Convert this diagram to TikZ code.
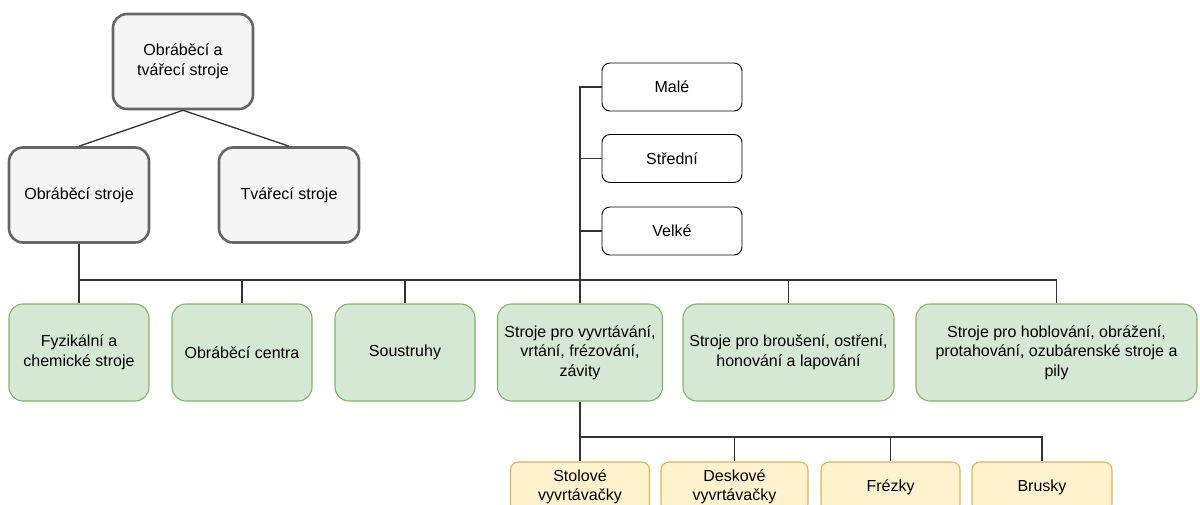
\documentclass[tikz,border=0pt]{standalone}
\usepackage{fontspec}
\setmainfont{Liberation Sans}
\usepackage{xcolor}
\usepackage{tikz}
\usetikzlibrary{calc}
\definecolor{grayfill}{HTML}{F5F5F5}
\definecolor{graydraw}{HTML}{666666}
\definecolor{greenfill}{HTML}{D5E8D4}
\definecolor{greendraw}{HTML}{82B366}
\definecolor{yellowfill}{HTML}{FFF2CC}
\definecolor{yellowdraw}{HTML}{D6B656}
\definecolor{linecol}{HTML}{333333}
\tikzset{
    box/.style={draw, rounded corners=14pt, align=center, inner sep=2pt,
      font=\fontsize{16}{19.5}\selectfont},
    graybox/.style={box, fill=grayfill, draw=graydraw, line width=2.6pt, minimum width=140pt, minimum height=95pt},
    greenbox/.style={box, fill=greenfill, draw=greendraw, line width=1.1pt, minimum height=97pt},
    whitebox/.style={box, fill=white, draw=black, line width=0.9pt, rounded corners=8pt, minimum width=140pt, minimum height=48pt},
    yellowbox/.style={box, fill=yellowfill, draw=yellowdraw, line width=1.1pt, rounded corners=8pt, minimum height=50pt},
    conn/.style={draw=linecol, line width=1.3pt}}

\begin{document}
\begin{tikzpicture}[x=1pt,y=-1pt]
\useasboundingbox (0,0) rectangle (1200,504);
\clip (0,0) rectangle (1200,504);

%Top level
\node[graybox] (obrtvar) at (183,61.5) {Obráběcí a\\tvářecí stroje};
\node[graybox] (obr) at (79,195) {Obráběcí stroje};
\node[graybox] (tvar) at (289,195) {Tvářecí stroje};
\draw[conn] (obrtvar.south)--(obr.north);
\draw[conn] (obrtvar.south)--(tvar.north);

%Kinds of machines
\coordinate (bus) at (0,280);
\node[greenbox, minimum width=140pt] (fyz) at (79,352.5) {Fyzikální a\\chemické stroje};
\node[greenbox, minimum width=140pt] (centra) at (242,352.5) {Obráběcí centra};
\node[greenbox, minimum width=140pt] (soustr) at (405,352.5) {Soustruhy};
\node[greenbox, minimum width=165pt] (vrt) at (580,352.5) {Stroje pro vyvrtávání,\\vrtání, frézování,\\závity};
\node[greenbox, minimum width=211pt] (brous) at (788.5,352.5) {Stroje pro broušení, ostření,\\honování a lapování};
\node[greenbox, minimum width=281pt] (hobl) at (1056.5,352.5) {Stroje pro hoblování, obrážení,\\protahování, ozubárenské stroje a\\pily};
\foreach \g in {fyz,centra,soustr,vrt,brous,hobl}
  \draw[conn] (obr.south)--(obr.south |- bus)-|(\g.north);

%Sizes
\node[whitebox] (male) at (672,87) {Malé};
\node[whitebox] (stred) at (672,158.5) {Střední};
\node[whitebox] (velke) at (672,231) {Velké};
\foreach \s in {male,stred,velke}
  \draw[conn] (vrt.north)|-(\s.west);

%Boring machines
\coordinate (bus2) at (0,437);
\node[yellowbox, minimum width=139pt] (stol) at (580,487) {Stolové\\vyvrtávačky};
\node[yellowbox, minimum width=147pt] (desk) at (734.5,487) {Deskové\\vyvrtávačky};
\node[yellowbox, minimum width=139pt] (frez) at (890.5,487) {Frézky};
\node[yellowbox, minimum width=140pt] (brus) at (1042,487) {Brusky};
\foreach \y in {stol,desk,frez,brus}
  \draw[conn] (vrt.south)--(vrt.south |- bus2)-|(\y.north);

\end{tikzpicture}
\end{document}
